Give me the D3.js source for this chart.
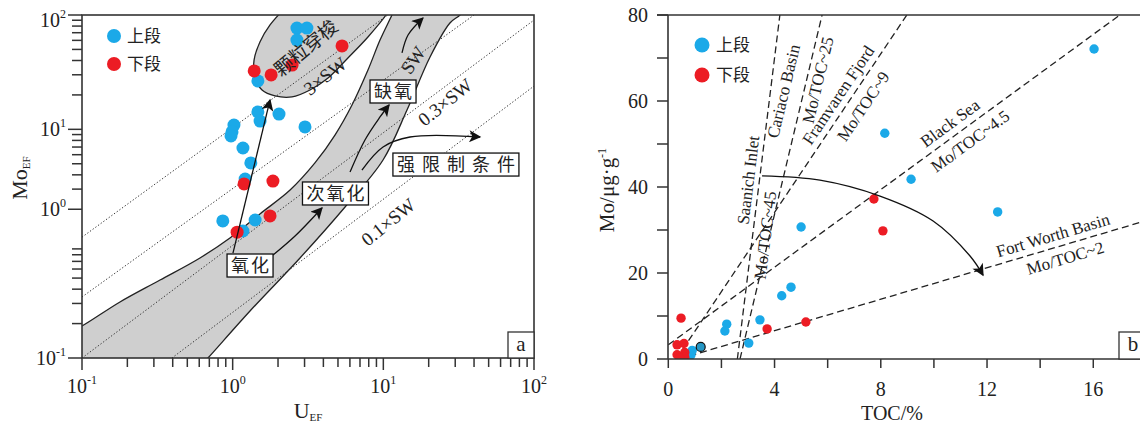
<!DOCTYPE html>
<html><head><meta charset="utf-8">
<script src="https://cdn.jsdelivr.net/npm/d3@7"></script>
<style>
body{margin:0;background:#fff}
text{font-family:"Liberation Serif","Times New Roman",serif;fill:#222}
.cjk{font-family:"Noto Sans CJK SC",sans-serif}
</style></head>
<body><svg id="c" width="1140" height="425"></svg>
<script>
// ---------------- DATA: panel a (U_EF vs Mo_EF) ----------------
const upperA = [[2.67,76.9],[3.11,76.9],[2.67,60.4],[1.47,26.5],[1.47,14.2],[1.52,11.8],[2.03,13.6],[3.02,10.5],[1.02,10.9],[0.99,9.5],[0.975,8.75],[1.17,6.87],[1.32,5.08],[1.21,3.68],[0.86,1.58],[1.41,1.61],[1.17,1.29]];
const lowerA = [[1.39,32.4],[1.80,29.9],[2.48,36.5],[5.32,53.6],[1.19,3.33],[1.85,3.53],[1.77,1.75],[1.07,1.26]];
const swLabels = ["3×SW","SW","0.3×SW","0.1×SW"];
const swFrom = [[0.1,1.14],[0.1,0.342],[0.1,0.1],[0.395,0.1]];
const swTo = [[10.7,100],[40,100],[100,90.3],[100,23.9]];
const xTicksA = [0.1,1,10,100];
const xTickExpA = ["-1","0","1","2"];
const yTicksA = [0.1,2,10,100];
const yTickExpA = ["-1","0","1","2"];
// annotation shapes (log10 U, log10 Mo)
const shuttleOval = [[0.367,2.088],[0.248,1.913],[0.181,1.764],[0.142,1.606],[0.148,1.449],[0.195,1.344],[0.281,1.292],[0.394,1.283],[0.513,1.344],[0.633,1.449],[0.765,1.624],[0.898,1.808],[1.018,2.0],[1.057,2.088]];
const bandUpperEdge = [[-1.05,-0.75],[-1,-0.72],[-0.748,-0.51],[-0.482,-0.318],[-0.217,-0.125],[-0.018,0.05],[0.181,0.26],[0.381,0.469],[0.546,0.706],[0.679,0.95],[0.792,1.213],[0.898,1.519],[0.978,1.781],[1.057,2.0],[1.09,2.1]];
const bandLowerEdge = [[1.56,2.08],[1.509,2.0],[1.442,1.93],[1.31,1.633],[1.157,1.169],[0.998,0.732],[0.746,0.321],[0.447,-0.125],[0.115,-0.589],[-0.164,-1],[-0.2,-1.05]];
const arrowOxic = [[0.002,-0.082],[0.248,1.257]];
const arrowSuboxic = [[0.268,-0.099],[0.414,0.067],[0.593,0.312]];
const arrowAnoxic = [[0.779,0.627],[0.878,0.907],[0.978,1.108],[1.038,1.213]];
const arrowSW = [[1.124,1.668],[1.164,1.825],[1.263,1.974]];
const arrowRestricted = [[0.858,0.644],[0.998,0.846],[1.177,0.933],[1.642,0.933]];
const boxLabels = ["氧化","次氧化","缺氧","强限制条件"];
const boxAt = [[0.122,-0.191],[0.689,0.439],[1.071,1.331],[1.505,0.692]];
const boxSpacing = [2,2,2,7];
const shuttleLabelAt = [0.487,1.711];
const swLabelAt = [[0.613,1.467],[1.197,1.606],[1.409,1.239],[1.031,0.190]];

// ---------------- DATA: panel b (TOC vs Mo) ----------------
const upperB = [[16.03,72.1],[8.15,52.5],[9.14,41.8],[12.4,34.2],[5.0,30.7],[4.62,16.7],[4.27,14.7],[3.45,9.1],[2.2,8.1],[2.13,6.5],[3.03,3.7],[0.9,2.0],[0.85,0.9],[0.7,0.4]];
const upperBOutlined = [[1.22,2.8]];
const lowerB = [[0.48,9.5],[3.72,7.0],[5.18,8.6],[7.74,37.2],[8.08,29.8],[0.33,3.3],[0.59,3.6],[0.33,1.0],[0.62,1.5],[0.62,0.4],[0.45,0.2]];
const trendNames = ["Saanich Inlet","Cariaco Basin","Framvaren Fjord","Black Sea","Fort Worth Basin"];
const trendRatios = ["Mo/TOC~45","Mo/TOC~25","Mo/TOC~9","Mo/TOC~4.5","Mo/TOC~2"];
const trendFrom = [[2.60,0],[2.70,0],[0.30,0],[0,3.3],[0.40,0]];
const trendTo = [[4.20,80],[5.79,80],[8.98,80],[17.0,80],[18.0,32.2]];
const trendNameAt = [[3.0,41.6],[4.33,62.3],[6.39,61.4],[10.6,54.9],[14.48,28.8]];
const trendRatioAt = [[3.64,28.8],[5.62,64.9],[7.33,58.8],[11.36,50.7],[14.94,23.5]];
const restrictArc = [[3.53,42.6],[5.71,41.6],[7.97,37.9],[9.97,32.1],[11.36,23.95],[11.85,19.5]];
const xTicksB = [0,2,4,6,8,10,12,14,16];
const yTicksB = [0,10,20,30,40,50,60,70,80];
const legendLabels = ["上段","下段"];

const BLUE = "#1ba9e8", RED = "#ec1c24", GRAY = "#cfcfcf", INK = "#222";

const svg = d3.select("#c");
const defs = svg.append("defs");
defs.append("marker").attr("id","ah").attr("viewBox","0 0 10 10").attr("refX",9).attr("refY",5)
  .attr("markerWidth",15).attr("markerHeight",12).attr("markerUnits","userSpaceOnUse").attr("orient","auto")
  .append("path").attr("d","M0,0 L10,5 L0,10 L2.5,5 Z").attr("fill","#111");

// ================= PANEL A =================
const xA = d3.scaleLog().domain([0.1,100]).range([82,534]);
const yA = d3.scaleLog().domain([0.1,100]).range([358,15]);
const pe = p => [xA(Math.pow(10,p[0])), yA(Math.pow(10,p[1]))];
defs.append("clipPath").attr("id","clipA").append("rect").attr("x",82).attr("y",15).attr("width",452).attr("height",343);
const gA = svg.append("g");
const plotA = gA.append("g").attr("clip-path","url(#clipA)");

const cr = d3.line().curve(d3.curveCatmullRom.alpha(0.5));
// band
const bandD = cr(bandUpperEdge.map(pe)) + cr(bandLowerEdge.map(pe)).replace("M","L") + "L" + pe([-1.05,-1.05]).join(",") + "Z";
plotA.append("path").attr("d",bandD).attr("fill",GRAY);
plotA.append("path").attr("d",cr(bandUpperEdge.map(pe))).attr("fill","none").attr("stroke",INK).attr("stroke-width",1.3);
plotA.append("path").attr("d",cr(bandLowerEdge.map(pe))).attr("fill","none").attr("stroke",INK).attr("stroke-width",1.3);
// oval
plotA.append("path").attr("d",cr(shuttleOval.map(pe))).attr("fill",GRAY).attr("stroke",INK).attr("stroke-width",1.3);

// SW lines
swLabels.forEach((lab,i)=>{
  plotA.append("line").attr("x1",xA(swFrom[i][0])).attr("y1",yA(swFrom[i][1]))
    .attr("x2",xA(swTo[i][0])).attr("y2",yA(swTo[i][1]))
    .attr("stroke","#333").attr("stroke-width",1).attr("stroke-dasharray","1.3,2");
  const ang = Math.atan2(yA(swTo[i][1])-yA(swFrom[i][1]), xA(swTo[i][0])-xA(swFrom[i][0]))*180/Math.PI;
  const p = pe(swLabelAt[i]);
  gA.append("text").attr("transform",`translate(${p[0]},${p[1]}) rotate(${i==1?-55:ang-2})`)
    .attr("text-anchor","middle").attr("dy","0.35em").style("font-size","19px").text(lab);
});
// shuttle label
{
  const p = pe(shuttleLabelAt);
  gA.append("text").attr("class","cjk").attr("transform",`translate(${p[0]},${p[1]}) rotate(-40)`)
    .attr("text-anchor","middle").attr("dy","0.35em").style("font-size","19px").text("颗粒穿梭");
}

// points
function dots(g, data, sx, sy, r, fill, stroke){
  g.selectAll(null).data(data).enter().append("circle")
    .attr("cx",d=>sx(d[0])).attr("cy",d=>sy(d[1])).attr("r",r).attr("fill",fill)
    .attr("stroke",stroke||"none").attr("stroke-width",stroke?1.2:0);
}
dots(plotA, upperA, xA, yA, 6.5, BLUE);
dots(plotA, lowerA, xA, yA, 6.5, RED);

// arrows
[arrowOxic, arrowSuboxic, arrowAnoxic, arrowSW, arrowRestricted].forEach(a=>{
  const d = a.length===2 ? d3.line()(a.map(pe)) : cr(a.map(pe));
  gA.append("path").attr("d",d).attr("fill","none").attr("stroke","#111").attr("stroke-width",1.3).attr("marker-end","url(#ah)");
});
// boxes
boxLabels.forEach((lab,i)=>{
  const p = pe(boxAt[i]);
  const t = gA.append("text").attr("class","cjk").attr("x",p[0]).attr("y",p[1]).attr("text-anchor","middle")
    .attr("dy","0.36em").style("font-size","18px").style("letter-spacing",boxSpacing[i]+"px").text(lab);
  const bb = t.node().getBBox();
  gA.insert("rect","text:last-child").attr("x",bb.x-4).attr("y",p[1]-11.5).attr("width",bb.width+8-boxSpacing[i]).attr("height",23)
    .attr("fill","#fff").attr("stroke","#111").attr("stroke-width",1.3);
  t.raise();
});

// frame
gA.append("rect").attr("x",82).attr("y",15).attr("width",452).attr("height",343).attr("fill","none").attr("stroke","#333").attr("stroke-width",1.6);
// ticks
const minorA = [];
[0.1,1,10].forEach(d=>{for(let k=2;k<=9;k++) minorA.push(d*k);});
minorA.filter(v=>yTicksA.indexOf(v)<0).forEach(v=>{
  gA.append("line").attr("x1",72).attr("x2",82).attr("y1",yA(v)).attr("y2",yA(v)).attr("stroke","#333").attr("stroke-width",1.5);
});
minorA.forEach(v=>{
  gA.append("line").attr("x1",xA(v)).attr("x2",xA(v)).attr("y1",358).attr("y2",367).attr("stroke","#333").attr("stroke-width",1.5);
});
yTicksA.forEach((v,i)=>{
  const y = yA(v);
  gA.append("line").attr("x1",68).attr("x2",82).attr("y1",y).attr("y2",y).attr("stroke","#333").attr("stroke-width",1.5);
  const t = gA.append("text").attr("x",66).attr("y",(i===3? y+12 : y+7)).attr("text-anchor","end").style("font-size","20px");
  t.append("tspan").text("10");
  t.append("tspan").attr("dy",-9).style("font-size","12px").text(yTickExpA[i]);
});
xTicksA.forEach((v,i)=>{
  const x = xA(v);
  gA.append("line").attr("x1",x).attr("x2",x).attr("y1",358).attr("y2",370).attr("stroke","#333").attr("stroke-width",1.5);
  const t = gA.append("text").attr("x",x).attr("y",393).attr("text-anchor","middle").style("font-size","20px");
  t.append("tspan").text("10");
  t.append("tspan").attr("dy",-9).style("font-size","12px").text(xTickExpA[i]);
});
// axis titles
{
  const t = gA.append("text").attr("transform","translate(27,178) rotate(-90)").attr("text-anchor","middle").style("font-size","22px");
  t.append("tspan").text("Mo");
  t.append("tspan").attr("dy",3).style("font-size","11px").text("EF");
  const u = gA.append("text").attr("x",308).attr("y",418).attr("text-anchor","middle").style("font-size","22px");
  u.append("tspan").text("U");
  u.append("tspan").attr("dy",3).style("font-size","11px").text("EF");
}
// legend A
legendLabels.forEach((lab,i)=>{
  gA.append("circle").attr("cx",114).attr("cy",36+i*28).attr("r",7).attr("fill",i?RED:BLUE);
  gA.append("text").attr("class","cjk").attr("x",127).attr("y",36+i*28).attr("dy","0.36em").style("font-size","17px").text(lab);
});
// panel tag a
gA.append("rect").attr("x",508).attr("y",332).attr("width",26).attr("height",26).attr("fill","#fff").attr("stroke","#333").attr("stroke-width",1.3);
gA.append("text").attr("x",521).attr("y",351).attr("text-anchor","middle").style("font-size","21px").text("a");

// ================= PANEL B =================
const xB = d3.scaleLinear().domain([0,18]).range([668.3,1146.4]);
const yB = d3.scaleLinear().domain([0,80]).range([359,15]);
defs.append("clipPath").attr("id","clipB").append("rect").attr("x",668).attr("y",15).attr("width",480).attr("height",344);
const gB = svg.append("g");
const plotB = gB.append("g").attr("clip-path","url(#clipB)");

trendNames.forEach((nm,i)=>{
  const x1=xB(trendFrom[i][0]), y1=yB(trendFrom[i][1]), x2=xB(trendTo[i][0]), y2=yB(trendTo[i][1]);
  plotB.append("line").attr("x1",x1).attr("y1",y1).attr("x2",x2).attr("y2",y2)
    .attr("stroke","#222").attr("stroke-width",1.3).attr("stroke-dasharray","7,4");
  const ang = Math.atan2(y2-y1,x2-x1)*180/Math.PI;
  const a = ang < -90 ? ang+180 : ang;
  const pn = [xB(trendNameAt[i][0]), yB(trendNameAt[i][1])];
  const pr = [xB(trendRatioAt[i][0]), yB(trendRatioAt[i][1])];
  gB.append("text").attr("transform",`translate(${pn[0]},${pn[1]}) rotate(${a})`).attr("text-anchor","middle").attr("dy","0.35em").style("font-size","17px").text(nm);
  gB.append("text").attr("transform",`translate(${pr[0]},${pr[1]}) rotate(${a})`).attr("text-anchor","middle").attr("dy","0.35em").style("font-size","17px").text(trendRatios[i]);
});
gB.append("path").attr("d",d3.line().curve(d3.curveCatmullRom)(restrictArc.map(d=>[xB(d[0]),yB(d[1])])))
  .attr("fill","none").attr("stroke","#111").attr("stroke-width",1.3).attr("marker-end","url(#ah)");

dots(plotB, upperB, xB, yB, 4.7, BLUE);
dots(plotB, lowerB, xB, yB, 4.7, RED);
dots(plotB, upperBOutlined, xB, yB, 4.5, "#2496c4", "#111");

// axes B
gB.append("line").attr("x1",668).attr("x2",668).attr("y1",15).attr("y2",359).attr("stroke","#333").attr("stroke-width",1.6);
gB.append("line").attr("x1",668).attr("x2",1140).attr("y1",359).attr("y2",359).attr("stroke","#333").attr("stroke-width",1.6);
gB.append("line").attr("x1",657).attr("x2",1140).attr("y1",15).attr("y2",15).attr("stroke","#333").attr("stroke-width",1.6);
yTicksB.forEach(v=>{
  gB.append("line").attr("x1",657).attr("x2",668).attr("y1",yB(v)).attr("y2",yB(v)).attr("stroke","#333").attr("stroke-width",1.5);
  if(v%20===0) gB.append("text").attr("x",648).attr("y",yB(v)+7).attr("text-anchor","end").style("font-size","20px").text(v);
});
xTicksB.forEach(v=>{
  gB.append("line").attr("x1",xB(v)).attr("x2",xB(v)).attr("y1",359).attr("y2",368).attr("stroke","#333").attr("stroke-width",1.5);
  if(v%4===0) gB.append("text").attr("x",xB(v)).attr("y",396).attr("text-anchor","middle").style("font-size","20px").text(v);
});
{
  const t = gB.append("text").attr("transform","translate(614,190) rotate(-90)").attr("text-anchor","middle").style("font-size","21px");
  t.append("tspan").text("Mo/μg·g");
  t.append("tspan").attr("dy",-8).style("font-size","12px").text("-1");
  gB.append("text").attr("x",892).attr("y",420).attr("text-anchor","middle").style("font-size","20px").text("TOC/%");
}
legendLabels.forEach((lab,i)=>{
  gB.append("circle").attr("cx",702).attr("cy",45+i*30).attr("r",7.5).attr("fill",i?RED:BLUE);
  gB.append("text").attr("class","cjk").attr("x",716).attr("y",45+i*30).attr("dy","0.36em").style("font-size","17px").text(lab);
});
gB.append("rect").attr("x",1119).attr("y",332).attr("width",30).attr("height",27).attr("fill","#fff").attr("stroke","#333").attr("stroke-width",1.3);
gB.append("text").attr("x",1133).attr("y",351).attr("text-anchor","middle").style("font-size","21px").text("b");
</script></body></html>
